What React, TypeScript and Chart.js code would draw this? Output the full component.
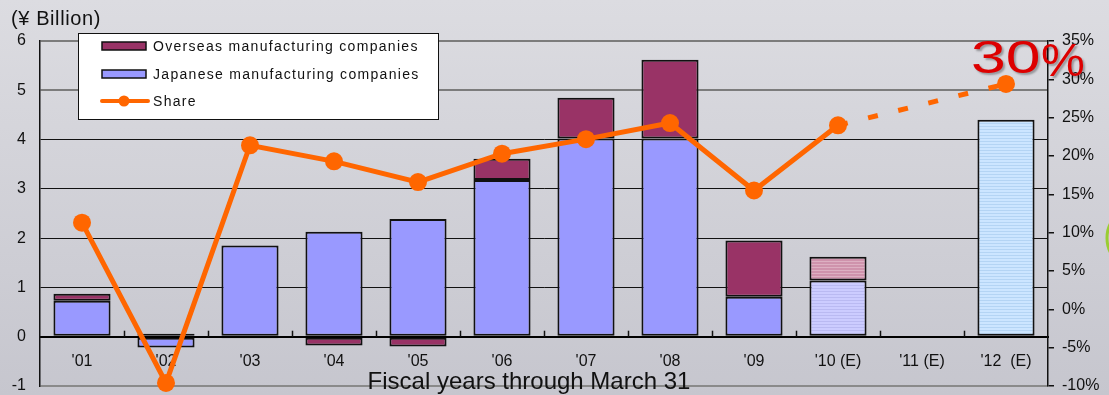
import React, { useEffect, useRef } from 'react';
import { Chart, registerables } from 'chart.js';

Chart.register(...registerables);

// ---- data ----
const categories = ["'01", "'02", "'03", "'04", "'05", "'06", "'07", "'08", "'09", "'10 (E)", "'11 (E)", "'12  (E)"];
const japanese: (number | null)[] = [0.73, -0.22, 1.85, 2.13, 2.39, 3.18, 4.02, 4.02, 0.81, 1.14, null, 4.4];
const overseas: (number | null)[] = [0.14, 0.06, -0.03, -0.18, -0.2, 0.43, 0.83, 1.6, 1.14, 0.48, null, null];
const share: (number | null)[] = [11.3, -9.6, 21.4, 19.3, 16.6, 20.3, 22.2, 24.3, 15.5, 24.0, null, 29.4];
const estimated = [false, false, false, false, false, false, false, false, false, true, true, true];
const leftTicks = [-1, 0, 1, 2, 3, 4, 5, 6];
const rightTicks = [-10, -5, 0, 5, 10, 15, 20, 25, 30, 35];
const legendLabels = ['Overseas manufacturing companies', 'Japanese manufacturing companies', 'Share'];
const yTitle = '(\u00a5 Billion)';
const xTitle = 'Fiscal years through March 31';
const calloutText = ['30', '%'];
const dashedFromIndex = 9;

// ---- styles ----
const FONT = '"Liberation Sans", Arial, sans-serif';
const OVERSEAS_COLOR = '#993366';
const JAPANESE_COLOR = '#9999ff';
const SHARE_COLOR = '#ff6600';

function stripes(base: string, stripe: string): CanvasPattern | string {
  const c = document.createElement('canvas');
  c.width = 4;
  c.height = 3;
  const g = c.getContext('2d');
  if (!g) return base;
  g.fillStyle = base;
  g.fillRect(0, 0, 4, 3);
  g.fillStyle = stripe;
  g.fillRect(0, 0, 4, 1);
  return g.createPattern(c, 'repeat') || base;
}

export default function App() {
  const ref = useRef<HTMLCanvasElement | null>(null);

  useEffect(() => {
    document.body.style.margin = '0';
    const canvas = ref.current;
    if (!canvas) return;

    const pinkPat = stripes('#cf93ac', '#ddb0c2');
    const lavPat = stripes('#ccccff', '#babaf2');
    const bluePat = stripes('#cce5ff', '#b4d4f4');

    const japBg = japanese.map((_, i) => (i === 11 ? bluePat : estimated[i] ? lavPat : JAPANESE_COLOR));
    const ovsBg = overseas.map((_, i) => (estimated[i] ? pinkPat : OVERSEAS_COLOR));

    const bgPlugin = {
      id: 'bg',
      beforeDraw(chart: any) {
        const { ctx, width, height } = chart;
        const g = ctx.createLinearGradient(0, 0, 0, height);
        g.addColorStop(0, '#dcdce1');
        g.addColorStop(1, '#c6c6ce');
        ctx.save();
        ctx.fillStyle = g;
        ctx.fillRect(0, 0, width, height);
        ctx.restore();
      },
    };

    const decoPlugin = {
      id: 'deco',
      afterDatasetsDraw(chart: any) {
        const { ctx } = chart;
        const xs = chart.scales.x;
        const y0 = chart.scales.y.getPixelForValue(0);
        ctx.save();
        ctx.strokeStyle = '#111';
        ctx.lineWidth = 1.5;
        for (let i = 1; i < categories.length; i++) {
          const px = Math.round((xs.getPixelForValue(i - 1) + xs.getPixelForValue(i)) / 2) + 0.5;
          ctx.beginPath();
          ctx.moveTo(px, y0 - 6);
          ctx.lineTo(px, y0);
          ctx.stroke();
        }
        ctx.restore();
      },
      afterDraw(chart: any) {
        const { ctx } = chart;
        ctx.save();
        // titles
        ctx.fillStyle = '#111';
        ctx.textBaseline = 'alphabetic';
        ctx.textAlign = 'left';
        ctx.font = `20px ${FONT}`;
        try { (ctx as any).letterSpacing = '0.6px'; } catch (e) {}
        ctx.fillText(yTitle, 11, 25);
        try { (ctx as any).letterSpacing = '0px'; } catch (e) {}
        ctx.textAlign = 'center';
        ctx.font = `24px ${FONT}`;
        ctx.fillText(xTitle, 529, 389);

        // legend
        const lx = 78, ly = 33, lw = 360, lh = 86;
        ctx.fillStyle = '#ffffff';
        ctx.fillRect(lx, ly, lw, lh);
        ctx.strokeStyle = '#111';
        ctx.lineWidth = 1;
        ctx.strokeRect(lx + 0.5, ly + 0.5, lw, lh);
        ctx.textAlign = 'left';
        ctx.textBaseline = 'middle';
        ctx.font = `14px ${FONT}`;
        try { (ctx as any).letterSpacing = '1.3px'; } catch (e) {}
        const rows = [46, 74, 101];
        [OVERSEAS_COLOR, JAPANESE_COLOR].forEach((col, i) => {
          ctx.fillStyle = col;
          ctx.fillRect(102, rows[i] - 4, 44, 8);
          ctx.lineWidth = 1.5;
          ctx.strokeStyle = '#111';
          ctx.strokeRect(102, rows[i] - 4, 44, 8);
          ctx.fillStyle = '#111';
          ctx.fillText(legendLabels[i], 153, rows[i] + 1);
        });
        ctx.strokeStyle = SHARE_COLOR;
        ctx.lineWidth = 4;
        ctx.lineCap = 'round';
        ctx.beginPath();
        ctx.moveTo(102, rows[2]);
        ctx.lineTo(148, rows[2]);
        ctx.stroke();
        ctx.fillStyle = SHARE_COLOR;
        ctx.beginPath();
        ctx.arc(124, rows[2], 5.5, 0, Math.PI * 2);
        ctx.fill();
        ctx.fillStyle = '#111';
        ctx.fillText(legendLabels[2], 153, rows[2] + 1);
        try { (ctx as any).letterSpacing = '0px'; } catch (e) {}

        // callout
        ctx.textBaseline = 'alphabetic';
        ctx.textAlign = 'left';
        ctx.shadowColor = 'rgba(0,0,0,0.3)';
        ctx.shadowOffsetX = 2;
        ctx.shadowOffsetY = 2;
        ctx.shadowBlur = 2;
        ctx.fillStyle = '#dd0000';
        ctx.font = `47px ${FONT}`;
        ctx.save();
        ctx.translate(971, 73);
        ctx.scale(1.33, 1);
        ctx.fillText(calloutText[0], 0, 0);
        ctx.restore();
        ctx.save();
        ctx.translate(1041, 76);
        ctx.scale(1.05, 1);
        ctx.fillText(calloutText[1], 0, 0);
        ctx.restore();
        ctx.shadowColor = 'transparent';

        // green edge ring
        ctx.strokeStyle = '#9acd32';
        ctx.lineWidth = 3;
        ctx.beginPath();
        ctx.ellipse(1126, 238, 19, 25, 0, 0, Math.PI * 2);
        ctx.stroke();
        ctx.restore();
      },
    };

    const chart = new Chart(canvas, {
      type: 'bar',
      data: {
        labels: categories,
        datasets: [
          {
            type: 'line',
            label: legendLabels[2],
            data: share,
            yAxisID: 'y1',
            borderColor: SHARE_COLOR,
            backgroundColor: SHARE_COLOR,
            borderWidth: 5,
            borderDash: [],
            pointRadius: 9,
            pointBackgroundColor: SHARE_COLOR,
            pointBorderWidth: 0,
            spanGaps: true,
            tension: 0,
            clip: false as any,
            order: 0,
            segment: {
              borderDash: (ctx: any) => (ctx.p1DataIndex > dashedFromIndex ? [10, 21] : []),
            },
          } as any,
          {
            type: 'bar',
            label: legendLabels[1],
            data: japanese,
            backgroundColor: japBg as any,
            borderColor: '#111',
            borderWidth: 2,
            borderSkipped: false,
            stack: 's',
            order: 1,
            barPercentage: 0.68,
            categoryPercentage: 1,
          },
          {
            type: 'bar',
            label: legendLabels[0],
            data: overseas,
            backgroundColor: ovsBg as any,
            borderColor: '#111',
            borderWidth: 2,
            borderSkipped: false,
            stack: 's',
            order: 1,
            barPercentage: 0.68,
            categoryPercentage: 1,
          },
        ],
      },
      options: {
        animation: false,
        responsive: false,
        devicePixelRatio: 1,
        layout: { padding: { top: 41, bottom: 9, left: 0, right: 0 } },
        plugins: {
          legend: { display: false },
          tooltip: { enabled: false },
          title: { display: false },
        },
        scales: {
          x: {
            type: 'category',
            position: { y: 0 } as any,
            stacked: true,
            offset: true,
            grid: { display: false, drawTicks: false },
            border: { display: true, color: '#000', width: 2 },
            ticks: { color: '#111', font: { family: FONT, size: 16 }, padding: 15, maxRotation: 0, autoSkip: false },
            afterFit(scale: any) {
              scale.height = 0;
              scale.paddingLeft = 0;
              scale.paddingRight = 0;
            },
          },
          y: {
            type: 'linear',
            position: 'left',
            stacked: true,
            min: leftTicks[0],
            max: leftTicks[leftTicks.length - 1],
            afterBuildTicks(scale: any) {
              scale.ticks = leftTicks.map((v) => ({ value: v }));
            },
            grid: {
              drawTicks: false,
              color: (c: any) => {
                const v = c.tick && c.tick.value;
                if (v === 0) return '#000';
                if (v >= 5) return '#7c7c7c';
                if (v === -1) return '#8a8a8a';
                return '#111';
              },
              lineWidth: (c: any) => {
                const v = c.tick && c.tick.value;
                if (v === 0) return 2;
                if (v >= 5 || v === -1) return 2;
                return 1;
              },
            },
            border: { display: true, color: '#111', width: 1.5 },
            ticks: { color: '#111', font: { family: FONT, size: 16 }, padding: 14 },
            afterFit(scale: any) {
              scale.width = 40;
              scale.paddingTop = 0;
              scale.paddingBottom = 0;
            },
          },
          y1: {
            type: 'linear',
            position: 'right',
            min: rightTicks[0],
            max: rightTicks[rightTicks.length - 1],
            afterBuildTicks(scale: any) {
              scale.ticks = rightTicks.map((v) => ({ value: v }));
            },
            grid: { drawOnChartArea: false, drawTicks: true, tickLength: 6, color: '#111', lineWidth: 1.5 },
            border: { display: true, color: '#111', width: 1.5 },
            ticks: {
              color: '#111',
              font: { family: FONT, size: 16 },
              padding: 8,
              callback: (v: any) => `${v}%`,
            },
            afterFit(scale: any) {
              scale.width = 61;
              scale.paddingTop = 0;
              scale.paddingBottom = 0;
            },
          },
        },
      } as any,
      plugins: [bgPlugin, decoPlugin],
    });

    return () => {
      chart.destroy();
    };
  }, []);

  return (
    <div style={{ width: 1109, height: 395, position: 'relative' }}>
      <canvas ref={ref} width={1109} height={395} style={{ display: 'block', width: 1109, height: 395 }} />
    </div>
  );
}
